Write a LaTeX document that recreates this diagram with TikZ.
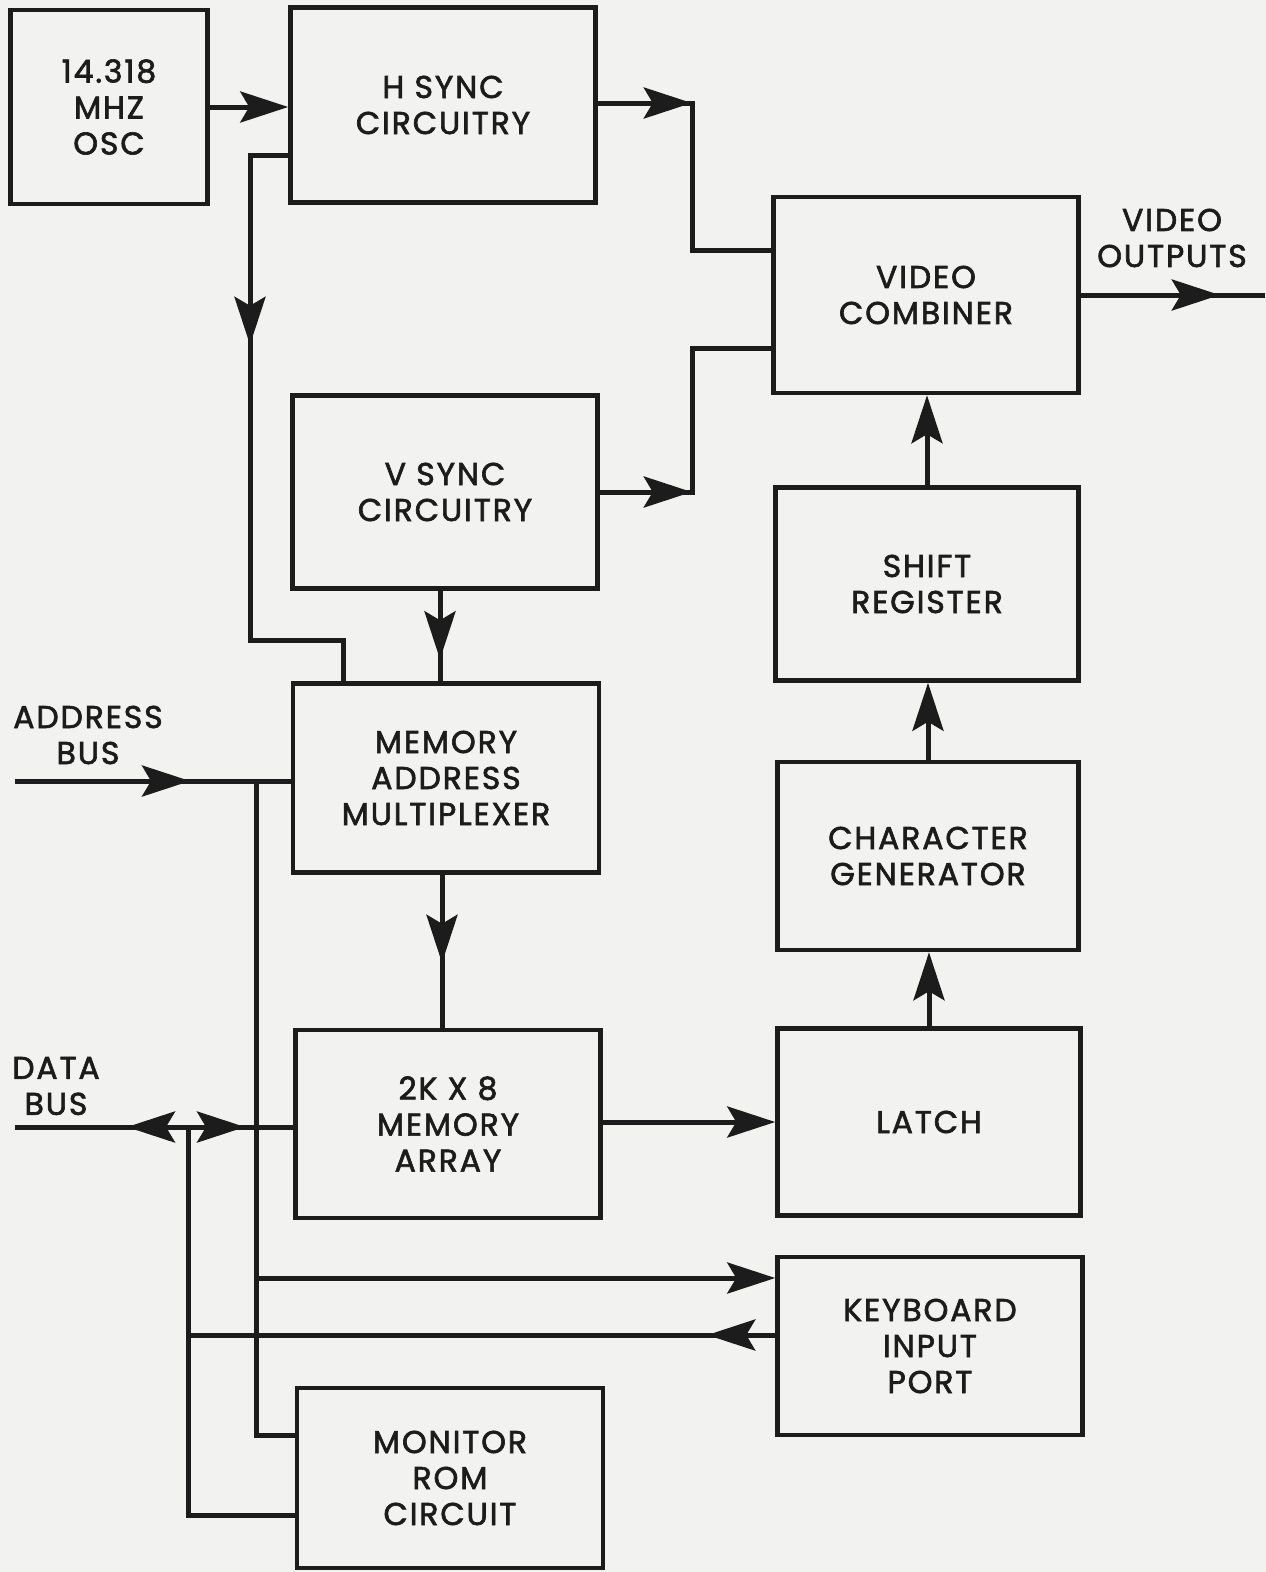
\documentclass[tikz,border=0pt]{standalone}
\usepackage{fontspec}
\setmainfont{Poppins}[LetterSpace=6,FakeBold=2]
\usetikzlibrary{arrows.meta,decorations.markings,calc}
\definecolor{paper}{RGB}{242,242,240}
\definecolor{ink}{RGB}{28,28,28}
\tikzset{
  blk/.style={draw=ink, line width=4.5pt, rectangle, align=center, text=ink,
    font=\fontsize{31.5}{36}\selectfont, inner sep=0pt},
  lbl/.style={align=center, text=ink, font=\fontsize{31.5}{36}\selectfont, inner sep=0pt},
  wire/.style={draw=ink, line width=5pt},
  arrowat/.style={postaction={decorate,decoration={markings,mark=at position #1 with {\arrow{>}}}}},
  rarrowat/.style={postaction={decorate,decoration={markings,mark=at position #1 with {\arrowreversed{>}}}}},
}
\begin{document}
\begin{tikzpicture}[x=1pt,y=-1pt,>={Stealth[length=48pt,width=31pt,inset=9pt]}]
\fill[paper] (0,0) rectangle (1266,1572);
\useasboundingbox (0,0) rectangle (1266,1572);
% blocks
\node[blk, minimum width=197pt, minimum height=194pt] (osc) at (109,107) {14.318\\MHZ\\OSC};
\node[blk, minimum width=305pt, minimum height=195pt] (hsync) at (443,105) {H SYNC\\CIRCUITRY};
\node[blk, minimum width=305pt, minimum height=196pt] (vcomb) at (926,295) {VIDEO\\COMBINER};
\node[blk, minimum width=305pt, minimum height=193pt] (vsync) at (445,492) {V SYNC\\CIRCUITRY};
\node[blk, minimum width=303pt, minimum height=193pt] (shift) at (927,584) {SHIFT\\REGISTER};
\node[blk, minimum width=306pt, minimum height=189pt] (mux) at (446,778) {MEMORY\\ADDRESS\\MULTIPLEXER};
\node[blk, minimum width=301pt, minimum height=188pt] (chargen) at (928,856) {CHARACTER\\GENERATOR};
\node[blk, minimum width=305pt, minimum height=188pt] (mem) at (448,1124) {2K X 8\\MEMORY\\ARRAY};
\node[blk, minimum width=303pt, minimum height=187pt] (latch) at (929,1122) {LATCH};
\node[blk, minimum width=305pt, minimum height=178pt] (kbd) at (930,1346) {KEYBOARD\\INPUT\\PORT};
\node[blk, minimum width=306pt, minimum height=180pt] (rom) at (450,1478) {MONITOR\\ROM\\CIRCUIT};
% labels
\node[lbl] (vout) at (1172,238) {VIDEO\\OUTPUTS};
\node[lbl] (abl) at (88,735) {ADDRESS\\BUS};
\node[lbl] (dbl) at (56,1086) {DATA\\BUS};
% coordinates
\coordinate (abus) at (15,781);
\coordinate (aj) at (256,781);
\coordinate (dbus) at (15,1127);
\coordinate (dj) at (188,1127);
\coordinate (v1) at ($(vsync.south)+(-5,0)$);
\coordinate (m1) at ($(mux.south)+(-4,0)$);
\coordinate (m2) at ($(mem.east)+(0,-2)$);
\coordinate (k1) at ($(kbd.west)+(0,-68)$);
\coordinate (k2) at ($(kbd.west)+(0,-11)$);
% connectors
\draw[wire,->] (osc.east) -- (osc.east -| hsync.west);
\draw[wire,arrowat=94pt] ($(hsync.east)+(0,-2)$) -- ++(95,0) |- ($(vcomb.west)+(0,-45)$);
\draw[wire,arrowat=228pt] ($(hsync.west)+(0,50)$) -- (250,155) -- (250,640) -| ($(mux.north)+(-103,0)$);
\draw[wire,arrowat=92pt] (vsync.east) -- ++(93,0) |- ($(vcomb.west)+(0,53)$);
\draw[wire,arrowat=-45pt] (vcomb.east) -- ++(184,0);
\draw[wire,->] (shift.north) -- (shift.north |- vcomb.south);
\draw[wire,->] (chargen.north) -- (chargen.north |- shift.south);
\draw[wire,->] (latch.north) -- (latch.north |- chargen.south);
\draw[wire,arrowat=-22pt] (v1) -- (v1 |- mux.north);
\draw[wire,arrowat=88pt] (m1) -- (m1 |- mem.north);
\draw[wire,arrowat=175pt] (abus) -- (abus -| mux.west);
\draw[wire] (aj) |- ($(rom.west)+(0,-43)$);
\draw[wire,->] (k1 -| aj) -- (k1);
\draw[wire,arrowat=68pt] (k2) -- (k2 -| dj);
\draw[wire,rarrowat=112pt,arrowat=230pt] (dbus) -- (dbus -| mem.west);
\draw[wire] (dj) |- ($(rom.west)+(0,37)$);
\draw[wire,->] (m2) -- (m2 -| latch.west);
\end{tikzpicture}
\end{document}
